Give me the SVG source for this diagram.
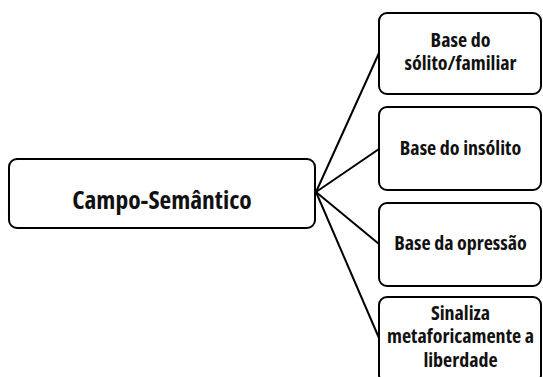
<svg xmlns="http://www.w3.org/2000/svg" width="543" height="377" viewBox="0 0 543 377">
<style>
.box{fill:#fff;stroke:#000;stroke-width:2}
.t{font-family:"Open Sans","DejaVu Sans",sans-serif;font-weight:bold;font-stretch:condensed;fill:#111;text-anchor:middle}
.main{font-size:25.5px}
.sub{font-size:20px}
.c{stroke:#000;stroke-width:2;fill:none}
</style>
<rect width="543" height="377" fill="#fff"/>
<g id="connectors">
<line class="c" x1="316" y1="192" x2="379" y2="53"/>
<line class="c" x1="316" y1="192" x2="379" y2="149"/>
<line class="c" x1="316" y1="192" x2="379" y2="244"/>
<line class="c" x1="316" y1="192" x2="379" y2="338"/>
</g>
<g id="main">
<rect class="box" x="9" y="159" width="306" height="69" rx="8"/>
<text class="t main" x="162" y="209">Campo-Semântico</text>
</g>
<g id="n1">
<rect class="box" x="379" y="13" width="162" height="81" rx="8"/>
<text class="t sub" x="460.5" y="47">Base do<tspan x="460.5" y="70">sólito/familiar</tspan></text>
</g>
<g id="n2">
<rect class="box" x="379" y="107" width="162" height="83" rx="8"/>
<text class="t sub" x="460.5" y="155">Base do insólito</text>
</g>
<g id="n3">
<rect class="box" x="379" y="203" width="162" height="83" rx="8"/>
<text class="t sub" x="460.5" y="250">Base da opressão</text>
</g>
<g id="n4">
<rect class="box" x="379" y="297" width="162" height="86" rx="8"/>
<text class="t sub" x="460.5" y="320">Sinaliza<tspan x="460.5" y="343">metaforicamente a</tspan><tspan x="460.5" y="367">liberdade</tspan></text>
</g>
</svg>
